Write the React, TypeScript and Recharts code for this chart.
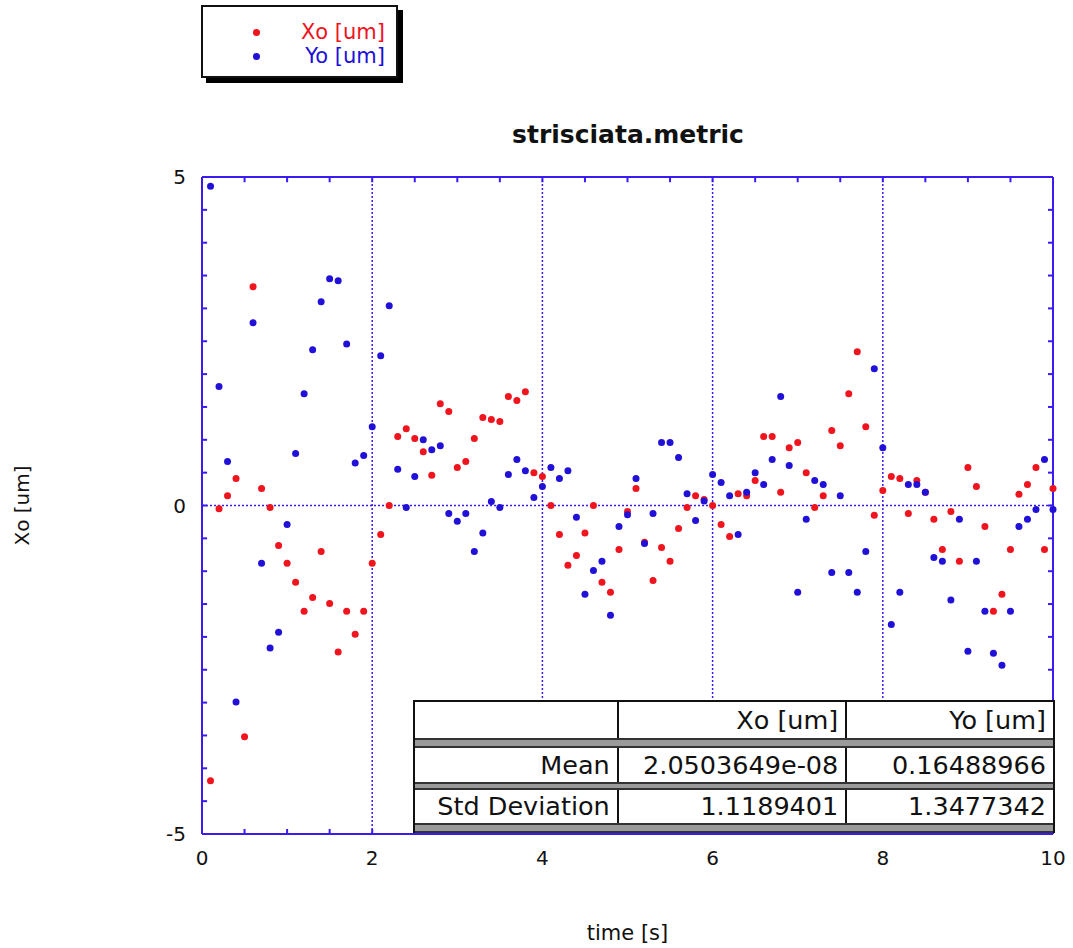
import React from 'react';
import { ScatterChart, Scatter, XAxis, YAxis, ReferenceLine } from 'recharts';

// time axis (s)
const timeS = [
  0.1, 0.2, 0.3, 0.4, 0.5, 0.6, 0.7, 0.8, 0.9, 1.0,
  1.1, 1.2, 1.3, 1.4, 1.5, 1.6, 1.7, 1.8, 1.9, 2.0,
  2.1, 2.2, 2.3, 2.4, 2.5, 2.6, 2.7, 2.8, 2.9, 3.0,
  3.1, 3.2, 3.3, 3.4, 3.5, 3.6, 3.7, 3.8, 3.9, 4.0,
  4.1, 4.2, 4.3, 4.4, 4.5, 4.6, 4.7, 4.8, 4.9, 5.0,
  5.1, 5.2, 5.3, 5.4, 5.5, 5.6, 5.7, 5.8, 5.9, 6.0,
  6.1, 6.2, 6.3, 6.4, 6.5, 6.6, 6.7, 6.8, 6.9, 7.0,
  7.1, 7.2, 7.3, 7.4, 7.5, 7.6, 7.7, 7.8, 7.9, 8.0,
  8.1, 8.2, 8.3, 8.4, 8.5, 8.6, 8.7, 8.8, 8.9, 9.0,
  9.1, 9.2, 9.3, 9.4, 9.5, 9.6, 9.7, 9.8, 9.9, 10.0,
];

// Xo [um] (red)
const xoUm = [
  -4.19, -0.05, 0.15, 0.41, -3.52, 3.33, 0.26, -0.03, -0.61, -0.88,
  -1.17, -1.61, -1.40, -0.70, -1.49, -2.23, -1.61, -1.96, -1.61, -0.88,
  -0.44, 0.00, 1.05, 1.17, 1.02, 0.82, 0.46, 1.55, 1.43, 0.58,
  0.67, 1.02, 1.34, 1.31, 1.28, 1.66, 1.60, 1.73, 0.50, 0.44,
  0.00, -0.44, -0.91, -0.76, -0.42, 0.00, -1.17, -1.32, -0.67, -0.09,
  0.26, -0.56, -1.14, -0.64, -0.85, -0.35, -0.03, 0.15, 0.09, 0.00,
  -0.29, -0.47, 0.18, 0.15, 0.38, 1.05, 1.05, 0.20, 0.88, 0.96,
  0.50, -0.03, 0.15, 1.14, 0.91, 1.70, 2.34, 1.20, -0.15, 0.23,
  0.44, 0.41, -0.12, 0.38, 0.20, -0.21, -0.67, -0.09, -0.85, 0.58,
  0.29, -0.32, -1.61, -1.35, -0.67, 0.17, 0.32, 0.58, -0.67, 0.26,
];

// Yo [um] (blue); the 0.5 s point is not visible in the plot
const yoUm: (number | null)[] = [
  4.86, 1.81, 0.67, -2.99, null, 2.78, -0.88, -2.17, -1.93, -0.29,
  0.79, 1.70, 2.37, 3.10, 3.45, 3.42, 2.46, 0.645, 0.76, 1.20,
  2.28, 3.04, 0.55, -0.03, 0.44, 1.00, 0.85, 0.91, -0.12, -0.24,
  -0.12, -0.70, -0.42, 0.06, -0.03, 0.47, 0.70, 0.53, 0.12, 0.29,
  0.58, 0.41, 0.53, -0.18, -1.35, -0.99, -0.85, -1.67, -0.32, -0.14,
  0.41, -0.58, -0.12, 0.96, 0.96, 0.73, 0.18, -0.23, 0.07, 0.47,
  0.35, 0.15, -0.44, 0.20, 0.50, 0.32, 0.70, 1.66, 0.61, -1.32,
  -0.21, 0.38, 0.32, -1.02, 0.15, -1.02, -1.32, -0.70, 2.08, 0.88,
  -1.81, -1.32, 0.32, 0.32, 0.20, -0.79, -0.85, -1.44, -0.21, -2.22,
  -0.85, -1.61, -2.25, -2.43, -1.61, -0.32, -0.21, -0.06, 0.70, -0.06,
];

const xTicks = [0, 2, 4, 6, 8, 10];
const yTicks = [-5, 0, 5];
const xMinorTicks = [0, 0.5, 1, 1.5, 2, 2.5, 3, 3.5, 4, 4.5, 5, 5.5, 6, 6.5, 7, 7.5, 8, 8.5, 9, 9.5, 10];
const yMinorTicks = [-5, -4.5, -4, -3.5, -3, -2.5, -2, -1.5, -1, -0.5, 0, 0.5, 1, 1.5, 2, 2.5, 3, 3.5, 4, 4.5, 5];
const gridX = [2, 4, 6, 8];
const gridY = [0];

const statHeaders = ['', 'Xo [um]', 'Yo [um]'];
const statRows = [
  ['Mean', '2.0503649e-08', '0.16488966'],
  ['Std Deviation', '1.1189401', '1.3477342'],
];

const W = 1073;
const H = 948;
const PLOT = { top: 177, bottom: 834, left: 202, right: 1053 };
const X_DOMAIN = [0, 10];
const Y_DOMAIN = [-5, 5];
const FONT = '"DejaVu Sans", Verdana, sans-serif';
const RED = '#f0141e';
const BLUE = '#2010d8';
const FRAME = '#3a1cf2';
const TICK_LEN = 5;
// tick length expressed in data units (about 5 px each way)
const TICK_DX = 0.06;
const TICK_DY = 0.08;

const series = [
  { name: 'Xo [um]', color: RED, values: xoUm },
  { name: 'Yo [um]', color: BLUE, values: yoUm },
];

const dot = (color: string) => (props: any) => (
  <circle cx={props.cx} cy={props.cy} r={3.5} fill={color} />
);

// x ticks: inward marks on the bottom edge, label under the major ones
const XTickMark = (props: any) => {
  const v = props.payload.value;
  return (
    <g>
      <line x1={props.x} x2={props.x} y1={PLOT.bottom} y2={PLOT.bottom - TICK_LEN} stroke={FRAME} strokeWidth={2} />
      {xTicks.includes(v) && (
        <text x={props.x} y={PLOT.bottom + 24} textAnchor="middle" dominantBaseline="central" fill="#111" fontSize={20} fontFamily={FONT}>
          {v}
        </text>
      )}
    </g>
  );
};

// y ticks: inward marks on the right edge
const YTickMark = (props: any) => (
  <line x1={PLOT.right} x2={PLOT.right - TICK_LEN} y1={props.y} y2={props.y} stroke={FRAME} strokeWidth={2} />
);

// y labels for the major ticks only
const YTickLabel = (props: any) => {
  const v = props.payload.value;
  if (!yTicks.includes(v)) return <g />;
  return (
    <text x={PLOT.left - 16} y={props.y} textAnchor="end" dominantBaseline="central" fill="#111" fontSize={20} fontFamily={FONT}>
      {v}
    </text>
  );
};

function StatsTable() {
  const colW = [205, 230, 207];
  const sep = (h: number) => (
    <div style={{ height: h, boxSizing: 'border-box', borderTop: '2px solid #333', borderBottom: '2px solid #333', background: '#9a9a9a' }} />
  );
  const row = (cells: string[], h: number) => (
    <div style={{ display: 'flex', height: h }}>
      {cells.map((c, i) => (
        <div key={i} style={{ width: colW[i], boxSizing: 'border-box', textAlign: 'right', paddingRight: 7, lineHeight: `${h}px`, whiteSpace: 'nowrap', borderRight: i < 2 ? '2px solid #111' : 'none' }}>
          {c}
        </div>
      ))}
    </div>
  );
  return (
    <div style={{ position: 'absolute', left: 413, top: 700, width: 642, height: 133, boxSizing: 'border-box', border: '2px solid #111', background: '#fff', fontFamily: FONT, fontSize: 25.5, color: '#111' }}>
      {row(statHeaders, 36)}
      {sep(10)}
      {row(statRows[0], 34)}
      {sep(8)}
      {row(statRows[1], 33)}
      {sep(10)}
    </div>
  );
}

function TopLegend() {
  return (
    <div style={{ position: 'absolute', left: 201, top: 5, width: 197, height: 73, boxSizing: 'border-box', border: '2px solid #111', background: '#fff', boxShadow: '5px 5px 0 #000', fontFamily: FONT, fontSize: 21 }}>
      {series.map((s, i) => (
        <div key={s.name} style={{ position: 'absolute', left: 0, right: 0, top: 13 + i * 24, height: 24 }}>
          <span style={{ position: 'absolute', left: 50, top: 9, width: 7, height: 7, borderRadius: '50%', background: s.color }} />
          <span style={{ position: 'absolute', right: 11, top: 0, lineHeight: '24px', color: s.color }}>{s.name}</span>
        </div>
      ))}
    </div>
  );
}

export default function App() {
  const frameLine = { stroke: FRAME, strokeWidth: 2 };
  return (
    <div style={{ position: 'absolute', left: 0, top: 0, width: W, height: H, background: '#fff' }}>
      <TopLegend />
      <div style={{ position: 'absolute', left: 428, width: 400, top: 120, textAlign: 'center', fontFamily: FONT, fontWeight: 'bold', fontSize: 25, color: '#111' }}>
        strisciata.metric
      </div>
      <ScatterChart width={W} height={H} margin={{ top: PLOT.top, right: W - PLOT.right, bottom: 4, left: 12 }}>
        <XAxis
          xAxisId="b"
          dataKey="t"
          type="number"
          domain={X_DOMAIN}
          ticks={xMinorTicks}
          interval={0}
          tickLine={false}
          height={H - PLOT.bottom - 4}
          axisLine={frameLine}
          tick={<XTickMark />}
          label={{ value: 'time [s]', position: 'insideBottom', offset: 4, style: { fill: '#111', fontSize: 21, fontFamily: FONT } }}
        />
        <XAxis xAxisId="t" orientation="top" type="number" domain={X_DOMAIN} allowDataOverflow mirror tick={false} tickLine={false} axisLine={frameLine} />
        <YAxis
          yAxisId="l"
          dataKey="v"
          type="number"
          domain={Y_DOMAIN}
          ticks={yTicks}
          interval={0}
          tickLine={false}
          width={PLOT.left - 12}
          axisLine={frameLine}
          tick={<YTickLabel />}
          label={{ value: 'Xo [um]', angle: -90, position: 'insideLeft', offset: 10, style: { textAnchor: 'middle', fill: '#111', fontSize: 20, fontFamily: FONT } }}
        />
        <YAxis
          yAxisId="r"
          orientation="right"
          type="number"
          domain={Y_DOMAIN}
          allowDataOverflow
          ticks={yMinorTicks}
          interval={0}
          mirror
          tickLine={false}
          axisLine={frameLine}
          tick={<YTickMark />}
        />
        {gridX.map((x) => (
          <ReferenceLine key={`gx${x}`} xAxisId="b" yAxisId="l" x={x} stroke={FRAME} strokeWidth={1.5} strokeDasharray="2 2" />
        ))}
        {gridY.map((y) => (
          <ReferenceLine key={`gy${y}`} xAxisId="b" yAxisId="l" y={y} stroke={FRAME} strokeWidth={1.5} strokeDasharray="2 2" />
        ))}
        {/* inward minor ticks on the left and top frame edges */}
        {yMinorTicks.map((y) => (
          <ReferenceLine
            key={`lt${y}`}
            xAxisId="b"
            yAxisId="l"
            segment={[{ x: X_DOMAIN[0], y }, { x: X_DOMAIN[0] + TICK_DX, y }]}
            stroke={FRAME}
            strokeWidth={2}
            ifOverflow="visible"
          />
        ))}
        {xMinorTicks.map((x) => (
          <ReferenceLine
            key={`tt${x}`}
            xAxisId="b"
            yAxisId="l"
            segment={[{ x, y: Y_DOMAIN[1] }, { x, y: Y_DOMAIN[1] - TICK_DY }]}
            stroke={FRAME}
            strokeWidth={2}
            ifOverflow="visible"
          />
        ))}
        {series.map((s) => (
          <Scatter
            key={s.name}
            name={s.name}
            xAxisId="b"
            yAxisId="l"
            data={timeS.map((t, i) => ({ t, v: s.values[i] })).filter((d) => d.v !== null)}
            shape={dot(s.color)}
            isAnimationActive={false}
          />
        ))}
      </ScatterChart>
      <StatsTable />
    </div>
  );
}
